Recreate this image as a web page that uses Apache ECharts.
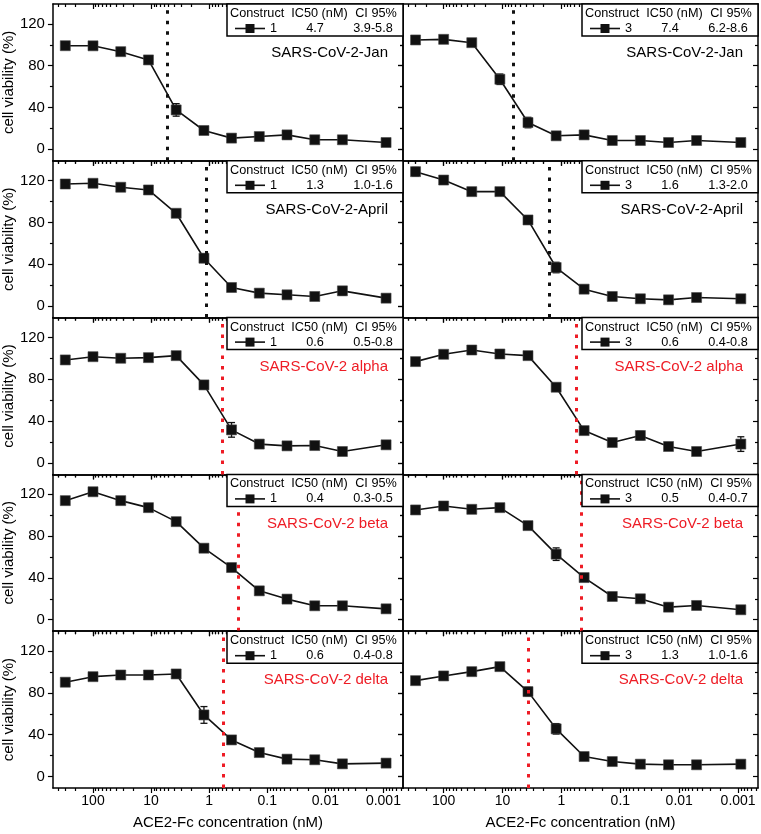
<!DOCTYPE html>
<html><head><meta charset="utf-8">
<script src="https://cdn.jsdelivr.net/npm/echarts@6/dist/echarts.min.js"></script>
<style>html,body{margin:0;padding:0;background:#fff}#c{width:761px;height:834px}</style>
</head><body><div id="c"></div>
<script>
// ---- data ----
const conc = [300, 100, 33.3, 11.1, 3.7, 1.23, 0.412, 0.137, 0.0457, 0.0152, 0.00508, 0.0009];
const xTickLabels = [100, 10, 1, 0.1, 0.01, 0.001];
const xMinorTicks = [400, 300, 200, 90, 80, 70, 60, 50, 40, 30, 20, 9, 8, 7, 6, 5, 4, 3, 2,
  0.9, 0.8, 0.7, 0.6, 0.5, 0.4, 0.3, 0.2, 0.09, 0.08, 0.07, 0.06, 0.05, 0.04, 0.03, 0.02,
  0.009, 0.008, 0.007, 0.006, 0.005, 0.004, 0.003, 0.002, 0.0009, 0.0008, 0.0007, 0.0006, 0.0005];
const yTickLabels = [0, 40, 80, 120];
const yMinorTicks = [20, 60, 100];

const variantNames = ['SARS-CoV-2-Jan', 'SARS-CoV-2-April', 'SARS-CoV-2 alpha', 'SARS-CoV-2 beta', 'SARS-CoV-2 delta'];
const variantRed = [false, false, true, true, true];
const constructs = ['1', '3'];
const ic50Text = [['4.7', '7.4'], ['1.3', '1.6'], ['0.6', '0.6'], ['0.4', '0.5'], ['0.6', '1.3']];
const ciText = [['3.9-5.8', '6.2-8.6'], ['1.0-1.6', '1.3-2.0'], ['0.5-0.8', '0.4-0.8'], ['0.3-0.5', '0.4-0.7'], ['0.4-0.8', '1.0-1.6']];
const ic50LinePos = [[5.3, 6.7], [1.13, 1.59], [0.59, 0.56], [0.32, 0.47], [0.57, 3.6]];

const janC1 = [99.1, 99.0, 93.4, 85.5, 37.7, 18.0, 10.7, 12.2, 13.8, 9.1, 9.1, 6.5];
const janC3 = [104.6, 105.2, 102.0, 67.0, 25.6, 12.9, 13.8, 8.4, 8.4, 6.5, 8.4, 6.5];
const aprC1 = [116.8, 117.5, 113.7, 111.1, 88.8, 45.8, 17.8, 12.4, 10.8, 9.2, 14.6, 7.6];
const aprC3 = [128.6, 120.6, 109.5, 109.5, 82.4, 36.9, 16.2, 9.2, 7.0, 6.0, 8.2, 7.0];
const alphaC1 = [98.5, 101.6, 100.1, 100.7, 102.6, 74.6, 31.6, 18.0, 16.3, 16.6, 10.9, 17.3];
const alphaC3 = [96.9, 103.9, 108.0, 104.2, 102.6, 72.4, 30.9, 19.5, 26.2, 15.7, 10.9, 18.0];
const betaC1 = [113.9, 122.4, 113.9, 107.2, 93.8, 68.4, 49.9, 27.6, 19.7, 13.3, 13.3, 10.4];
const betaC3 = [105.0, 108.8, 105.6, 107.2, 90.0, 62.7, 40.3, 22.2, 20.0, 12.0, 13.6, 9.5];
const deltaC1 = [90.2, 95.5, 97.1, 97.1, 98.1, 58.9, 35.0, 22.9, 16.6, 16.0, 12.1, 12.8];
const deltaC3 = [91.7, 96.2, 100.3, 105.1, 81.2, 45.6, 19.1, 14.3, 11.8, 11.2, 11.2, 11.8];

const janC1Err = [3, 2, 2, 3, 6, 2, 2, 2, 4, 2, 2, 1];
const janC3Err = [2, 2, 2, 5, 5, 2, 2, 1, 1, 1, 1, 1];
const aprC1Err = [2, 2, 2, 2, 2, 4, 2, 2, 2, 2, 4, 1];
const aprC3Err = [4, 2, 1, 1, 2, 5, 2, 1, 1, 1, 1, 1];
const alphaC1Err = [2, 2, 2, 2, 2, 3, 7, 2, 2, 2, 2, 2];
const alphaC3Err = [2, 2, 2, 2, 2, 2, 3, 2, 4, 2, 2, 7];
const betaC1Err = [2, 2, 2, 2, 2, 2, 2, 2, 2, 2, 2, 2];
const betaC3Err = [2, 2, 2, 2, 2, 6, 2, 2, 2, 2, 2, 2];
const deltaC1Err = [2, 2, 2, 2, 2, 8, 3, 2, 2, 2, 2, 2];
const deltaC3Err = [2, 2, 2, 2, 4, 5, 2, 2, 2, 2, 2, 2];

// ---- layout / style ----
const valuesByPanel = [[janC1, janC3], [aprC1, aprC3], [alphaC1, alphaC3], [betaC1, betaC3], [deltaC1, deltaC3]];
const errByPanel = [[janC1Err, janC3Err], [aprC1Err, aprC3Err], [alphaC1Err, alphaC3Err], [betaC1Err, betaC3Err], [deltaC1Err, deltaC3Err]];
const FONT = '"Liberation Sans", Arial, sans-serif';
const RED = '#ee1c25';
const INK = '#111';
const plotLeft = [50, 403], plotWidth = [353, 355];
const T0 = 4, H = 156.8;
const xMin = 0.00046, xMax = 490, yMin = -11, yMax = 139;

function fmtX(v) {
  let best = xTickLabels[0];
  xTickLabels.forEach(t => { if (Math.abs(Math.log10(t) - Math.log10(v)) < Math.abs(Math.log10(best) - Math.log10(v))) best = t; });
  return String(best);
}

const chart = echarts.init(document.getElementById('c'));
const grids = [], xAxes = [], yAxes = [], series = [], graphics = [];
const axLine = { show: true, onZero: false, lineStyle: { color: '#000', width: 1.5 } };
const tickStyle = { color: '#000', width: 1.2 };

function errRender(params, api) {
  const x = api.value(0), y = api.value(1), e = api.value(2);
  const a = api.coord([x, y + e]), b = api.coord([x, y - e]);
  const hw = 3.5;
  const st = { stroke: INK, lineWidth: 1.3 };
  return { type: 'group', children: [
    { type: 'line', shape: { x1: a[0], y1: a[1], x2: b[0], y2: b[1] }, style: st },
    { type: 'line', shape: { x1: a[0] - hw, y1: a[1], x2: a[0] + hw, y2: a[1] }, style: st },
    { type: 'line', shape: { x1: b[0] - hw, y1: b[1], x2: b[0] + hw, y2: b[1] }, style: st }
  ] };
}

for (let r = 0; r < 5; r++) {
  for (let c = 0; c < 2; c++) {
    const g = grids.length;
    const left = plotLeft[c], width = plotWidth[c], top = T0 + r * H;
    const isBottom = r === 4;
    grids.push({ left: left, top: top, width: width, height: H });
    const xc = { type: 'log', logBase: 10, gridIndex: g, min: xMin, max: xMax, inverse: true, splitLine: { show: false } };
    xAxes.push(Object.assign({}, xc, {
      position: 'bottom', axisLine: axLine,
      axisTick: { show: true, inside: false, length: 5, customValues: xTickLabels, lineStyle: tickStyle },
      axisLabel: { show: isBottom, customValues: xTickLabels, formatter: fmtX, fontSize: 14, color: '#000', fontFamily: FONT, margin: 6 },
      name: isBottom ? 'ACE2-Fc concentration (nM)' : '', nameLocation: 'middle', nameGap: 27,
      nameTextStyle: { fontSize: 15, color: '#000', fontFamily: FONT }
    }));
    xAxes.push(Object.assign({}, xc, { position: 'bottom', axisLine: { show: false, onZero: false },
      axisTick: { show: true, inside: false, length: 3, customValues: xMinorTicks, lineStyle: tickStyle }, axisLabel: { show: false } }));
    xAxes.push(Object.assign({}, xc, { position: 'top', axisLine: axLine,
      axisTick: { show: true, inside: true, length: 5, customValues: xTickLabels, lineStyle: tickStyle }, axisLabel: { show: false } }));
    xAxes.push(Object.assign({}, xc, { position: 'top', axisLine: { show: false, onZero: false },
      axisTick: { show: true, inside: true, length: 3, customValues: xMinorTicks, lineStyle: tickStyle }, axisLabel: { show: false } }));

    const yc = { type: 'value', gridIndex: g, min: yMin, max: yMax, splitLine: { show: false } };
    yAxes.push(Object.assign({}, yc, {
      position: 'left', axisLine: axLine,
      axisTick: { show: true, inside: false, length: 5, customValues: yTickLabels, lineStyle: tickStyle },
      axisLabel: { show: c === 0, customValues: yTickLabels, fontSize: 15, color: '#000', fontFamily: FONT, margin: 8 },
      name: c === 0 ? 'cell viability (%)' : '', nameLocation: 'middle', nameGap: 23,
      nameTextStyle: { fontSize: 15, color: '#000', fontFamily: FONT }
    }));
    yAxes.push(Object.assign({}, yc, { position: 'left', axisLine: { show: false, onZero: false },
      axisTick: { show: true, inside: false, length: 3, customValues: yMinorTicks, lineStyle: tickStyle }, axisLabel: { show: false } }));
    yAxes.push(Object.assign({}, yc, { position: 'right', axisLine: axLine,
      axisTick: { show: true, inside: true, length: 5, customValues: yTickLabels, lineStyle: tickStyle }, axisLabel: { show: false } }));
    yAxes.push(Object.assign({}, yc, { position: 'right', axisLine: { show: false, onZero: false },
      axisTick: { show: true, inside: true, length: 3, customValues: yMinorTicks, lineStyle: tickStyle }, axisLabel: { show: false } }));

    const vals = valuesByPanel[r][c], errs = errByPanel[r][c];
    const lineColor = variantRed[r] ? RED : INK;
    series.push({
      type: 'custom', xAxisIndex: 4 * g, yAxisIndex: 4 * g, renderItem: errRender, z: 2,
      data: conc.map((x, i) => [x, vals[i], errs[i]]), encode: { x: 0, y: 1 }, silent: true
    });
    series.push({
      type: 'line', xAxisIndex: 4 * g, yAxisIndex: 4 * g, z: 3,
      data: conc.map((x, i) => [x, vals[i]]),
      symbol: 'rect', symbolSize: 10, showAllSymbol: true,
      itemStyle: { color: INK, borderColor: '#444', borderWidth: 0.6 },
      lineStyle: { color: INK, width: 1.6 },
      markLine: {
        silent: true, symbol: ['none', 'none'], label: { show: false },
        lineStyle: { color: lineColor, type: [3.5, 7], width: 3 },
        data: [{ xAxis: ic50LinePos[r][c] }]
      }
    });

    // legend table box
    const right = left + width;
    const bx = right - 176, by = top;
    const tStyle = { fontSize: 12.7, fontFamily: FONT, fill: '#000', verticalAlign: 'middle' };
    graphics.push({ type: 'rect', z: 100, shape: { x: bx, y: by, width: 176, height: 32 },
      style: { fill: '#fff', stroke: '#000', lineWidth: 1.5 } });
    graphics.push({ type: 'text', z: 101, x: bx + 3, y: by + 9.5, style: Object.assign({ text: 'Construct', align: 'left' }, tStyle) });
    graphics.push({ type: 'text', z: 101, x: bx + 92.5, y: by + 9.5, style: Object.assign({ text: 'IC50 (nM)', align: 'center' }, tStyle) });
    graphics.push({ type: 'text', z: 101, x: bx + 149, y: by + 9.5, style: Object.assign({ text: 'CI 95%', align: 'center' }, tStyle) });
    graphics.push({ type: 'line', z: 101, shape: { x1: bx + 8, y1: by + 24.5, x2: bx + 38, y2: by + 24.5 }, style: { stroke: INK, lineWidth: 1.6 } });
    graphics.push({ type: 'rect', z: 102, shape: { x: bx + 18.5, y: by + 20, width: 9, height: 9 }, style: { fill: INK } });
    graphics.push({ type: 'text', z: 101, x: bx + 46.5, y: by + 24.5, style: Object.assign({ text: constructs[c], align: 'center' }, tStyle) });
    graphics.push({ type: 'text', z: 101, x: bx + 88, y: by + 24.5, style: Object.assign({ text: ic50Text[r][c], align: 'center' }, tStyle) });
    graphics.push({ type: 'text', z: 101, x: bx + 146, y: by + 24.5, style: Object.assign({ text: ciText[r][c], align: 'center' }, tStyle) });
    graphics.push({ type: 'text', z: 101, x: right - 15, y: top + 49,
      style: { text: variantNames[r], align: 'right', verticalAlign: 'middle', fontSize: 15, fontFamily: FONT, fill: variantRed[r] ? RED : '#000' } });
  }
}

chart.setOption({
  animation: false,
  backgroundColor: '#fff',
  grid: grids, xAxis: xAxes, yAxis: yAxes, series: series, graphic: graphics
});
</script></body></html>
